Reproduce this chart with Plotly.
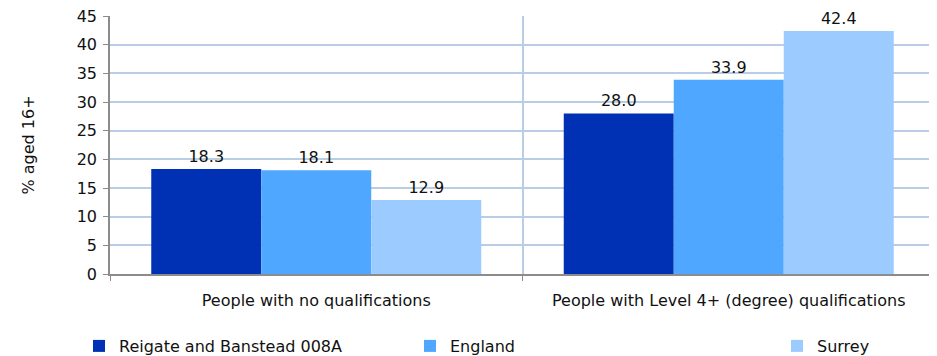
import plotly.graph_objects as go

categories = ["People with no qualifications", "People with Level 4+ (degree) qualifications"]
series_names = ["Reigate and Banstead 008A", "England", "Surrey"]
reigate = [18.3, 28.0]
england = [18.1, 33.9]
surrey = [12.9, 42.4]
colors = ["#0030B4", "#4FA7FF", "#9CCBFF"]
y_ticks = [0, 5, 10, 15, 20, 25, 30, 35, 40, 45]

FONT = "DejaVu Sans, Liberation Sans, Arial"
# page body has an 8px default margin, so the figure is sized to fit the window
W, H = 929, 348
L, R, T, B = 102, 2, 8, 82
pw, ph = W - L - R, H - T - B

fig = go.Figure()
legend_px = [71, 402, 769]
for i, (name, vals) in enumerate(zip(series_names, [reigate, england, surrey])):
    lg = "legend" if i == 0 else f"legend{i+1}"
    fig.add_trace(go.Bar(
        x=categories, y=vals, name=name,
        marker=dict(color=colors[i], line=dict(width=0)),
        text=[f"{v:.1f}" for v in vals], textposition="outside",
        textfont=dict(family=FONT, size=16, color="#111"),
        cliponaxis=False, legend=lg,
    ))

legend_common = dict(orientation="h", yanchor="middle", xanchor="left",
                     y=(T + ph - 338) / ph, font=dict(family=FONT, size=16, color="#111"),
                     bgcolor="rgba(0,0,0,0)", itemwidth=30)
layout_legends = {}
for i, px in enumerate(legend_px):
    key = "legend" if i == 0 else f"legend{i+1}"
    layout_legends[key] = dict(legend_common, x=(px - L) / pw)

fig.update_layout(
    width=W, height=H,
    margin=dict(l=L, r=R, t=T, b=B, autoexpand=False),
    paper_bgcolor="white", plot_bgcolor="white",
    barmode="group", bargap=0.2, bargroupgap=0,
    font=dict(family=FONT, size=16, color="#111"),
    showlegend=True,
    **layout_legends,
)
fig.update_xaxes(
    tickson="boundaries", showgrid=True, gridcolor="#B9CDE5", gridwidth=1.5,
    showline=True, linecolor="#8C8C8C", linewidth=1.5,
    ticks="outside", ticklen=5, tickcolor="#8C8C8C",
    tickfont=dict(family=FONT, size=16, color="#111"), mirror=False,
    ticklabelstandoff=11, automargin=False,
)
fig.update_yaxes(
    range=[0, 45], tickvals=y_ticks, showgrid=True, gridcolor="#B9CDE5", gridwidth=1.5,
    showline=True, linecolor="#8C8C8C", linewidth=1.5,
    ticks="outside", ticklen=5, tickcolor="#8C8C8C",
    tickfont=dict(family=FONT, size=16, color="#111"), zeroline=False,
    ticklabelstandoff=3, automargin=False, ticklabeloverflow="allow",
    title=dict(text="% aged 16+", font=dict(family=FONT, size=16, color="#111"), standoff=38),
)
fig.add_shape(type="line", xref="paper", yref="paper", x0=1, x1=1, y0=0, y1=1,
              line=dict(color="#B9CDE5", width=1.5))

fig.write_html("out.html")
